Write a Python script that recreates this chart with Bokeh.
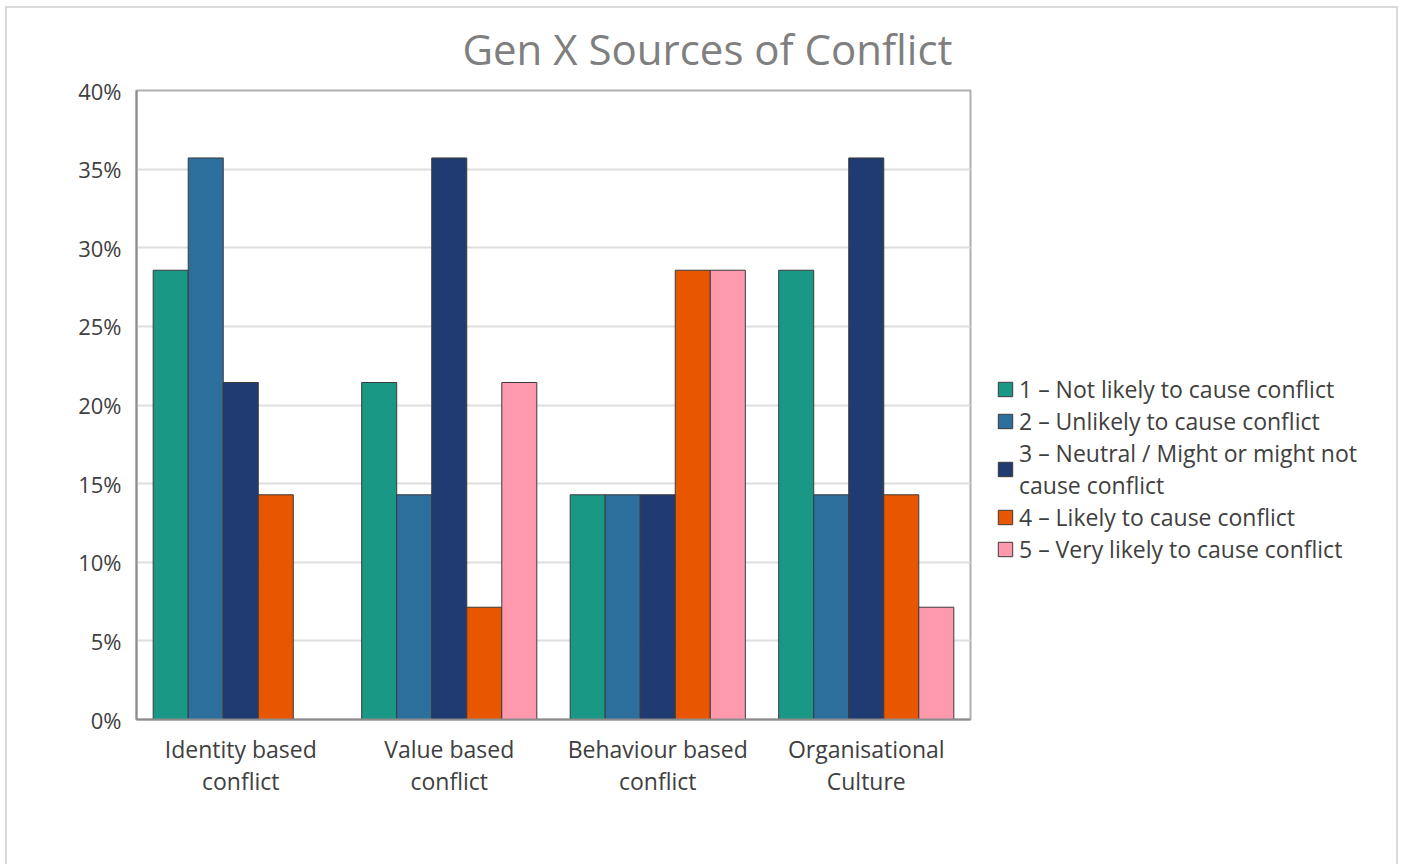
from bokeh.plotting import figure
from bokeh.models import ColumnDataSource, FixedTicker, Legend, LegendItem, NumeralTickFormatter, Range1d
from bokeh.transform import dodge
from bokeh.embed import file_html
from bokeh.resources import INLINE

categories = ["Identity based\nconflict", "Value based\nconflict", "Behaviour based\nconflict", "Organisational\nCulture"]
series_names = [
    "1 \u2013 Not likely to cause conflict",
    "2 \u2013 Unlikely to cause conflict",
    "3 \u2013 Neutral / Might or might not\ncause conflict",
    "4 \u2013 Likely to cause conflict",
    "5 \u2013 Very likely to cause conflict",
]
not_likely = [0.2857, 0.2143, 0.1429, 0.2857]
unlikely = [0.3571, 0.1429, 0.1429, 0.1429]
neutral = [0.2143, 0.3571, 0.1429, 0.3571]
likely = [0.1429, 0.0714, 0.2857, 0.1429]
very_likely = [0.0, 0.2143, 0.2857, 0.0714]
colors = ["#1a9886", "#2d6f9c", "#1f3b72", "#e85700", "#ff9aae"]
y_ticks = [0, 0.05, 0.10, 0.15, 0.20, 0.25, 0.30, 0.35, 0.40]

series = [not_likely, unlikely, neutral, likely, very_likely]
xpos = [i + 0.5 for i in range(len(categories))]

p = figure(frame_width=834, frame_height=629, output_backend="svg", toolbar_location=None,
           x_range=Range1d(0, 4), y_range=Range1d(0, 0.40),
           min_border_left=129, min_border_right=410, min_border_top=82, min_border_bottom=146)
p.margin = (6, 0, 0, 5)
p.styles = {"border-left": "2px solid #d9d9d9", "border-top": "2px solid #d9d9d9",
            "border-right": "2px solid #d9d9d9", "width": "1393px", "overflow": "hidden"}

p.title.text = "Gen X Sources of Conflict"
p.title.text_font = "Open Sans"
p.title.text_font_size = "42px"
p.title.text_font_style = "normal"
p.title.text_color = "#7f7f7f"
p.title.align = "left"
p.title.offset = 326
p.title.standoff = 23
p.title.vertical_align = "top"

bw = 0.168
offsets = [-2 * bw, -bw, 0, bw, 2 * bw]
items = []
for name, vals, col, off in zip(series_names, series, colors, offsets):
    src = ColumnDataSource(dict(x=xpos, top=vals))
    r = p.vbar(x=dodge("x", off), top="top", bottom=0, width=bw, source=src,
               fill_color=col, line_color="#3a3a3a", line_width=1)
    items.append(LegendItem(label=name, renderers=[r]))

legend = Legend(items=items, location=(26, 154), orientation="vertical")
legend.label_text_font = "Open Sans"
legend.label_text_font_size = "23px"
legend.label_text_color = "#404040"
legend.glyph_width = 18
legend.glyph_height = 18
legend.label_standoff = 5
legend.spacing = 0
legend.padding = 0
legend.margin = 0
legend.border_line_color = None
legend.background_fill_alpha = 0
p.add_layout(legend, "right")

p.xaxis.ticker = FixedTicker(ticks=xpos)
p.xaxis.major_label_overrides = {x: c for x, c in zip(xpos, categories)}
p.xaxis.major_tick_line_color = None
p.xaxis.minor_tick_line_color = None
p.xaxis.axis_line_color = "#8c8c8c"
p.xaxis.axis_line_width = 2
p.xaxis.major_label_text_font = "Open Sans"
p.xaxis.major_label_text_font_size = "23px"
p.xaxis.major_label_text_color = "#404040"
p.xaxis.major_label_text_line_height = 1.0
p.xaxis.major_label_standoff = 7

p.yaxis.ticker = FixedTicker(ticks=y_ticks)
p.yaxis.formatter = NumeralTickFormatter(format="0%")
p.yaxis.major_tick_line_color = None
p.yaxis.minor_tick_line_color = None
p.yaxis.axis_line_color = "#8c8c8c"
p.yaxis.axis_line_width = 2
p.yaxis.major_label_text_font = "Open Sans"
p.yaxis.major_label_text_font_size = "22px"
p.yaxis.major_label_text_color = "#404040"
p.yaxis.major_label_standoff = 9

p.xgrid.grid_line_color = None
p.ygrid.grid_line_color = "#dedede"
p.ygrid.grid_line_width = 2
p.outline_line_color = "#b0b0b0"
p.outline_line_width = 2

open("out.html", "w").write(file_html(p, INLINE))
